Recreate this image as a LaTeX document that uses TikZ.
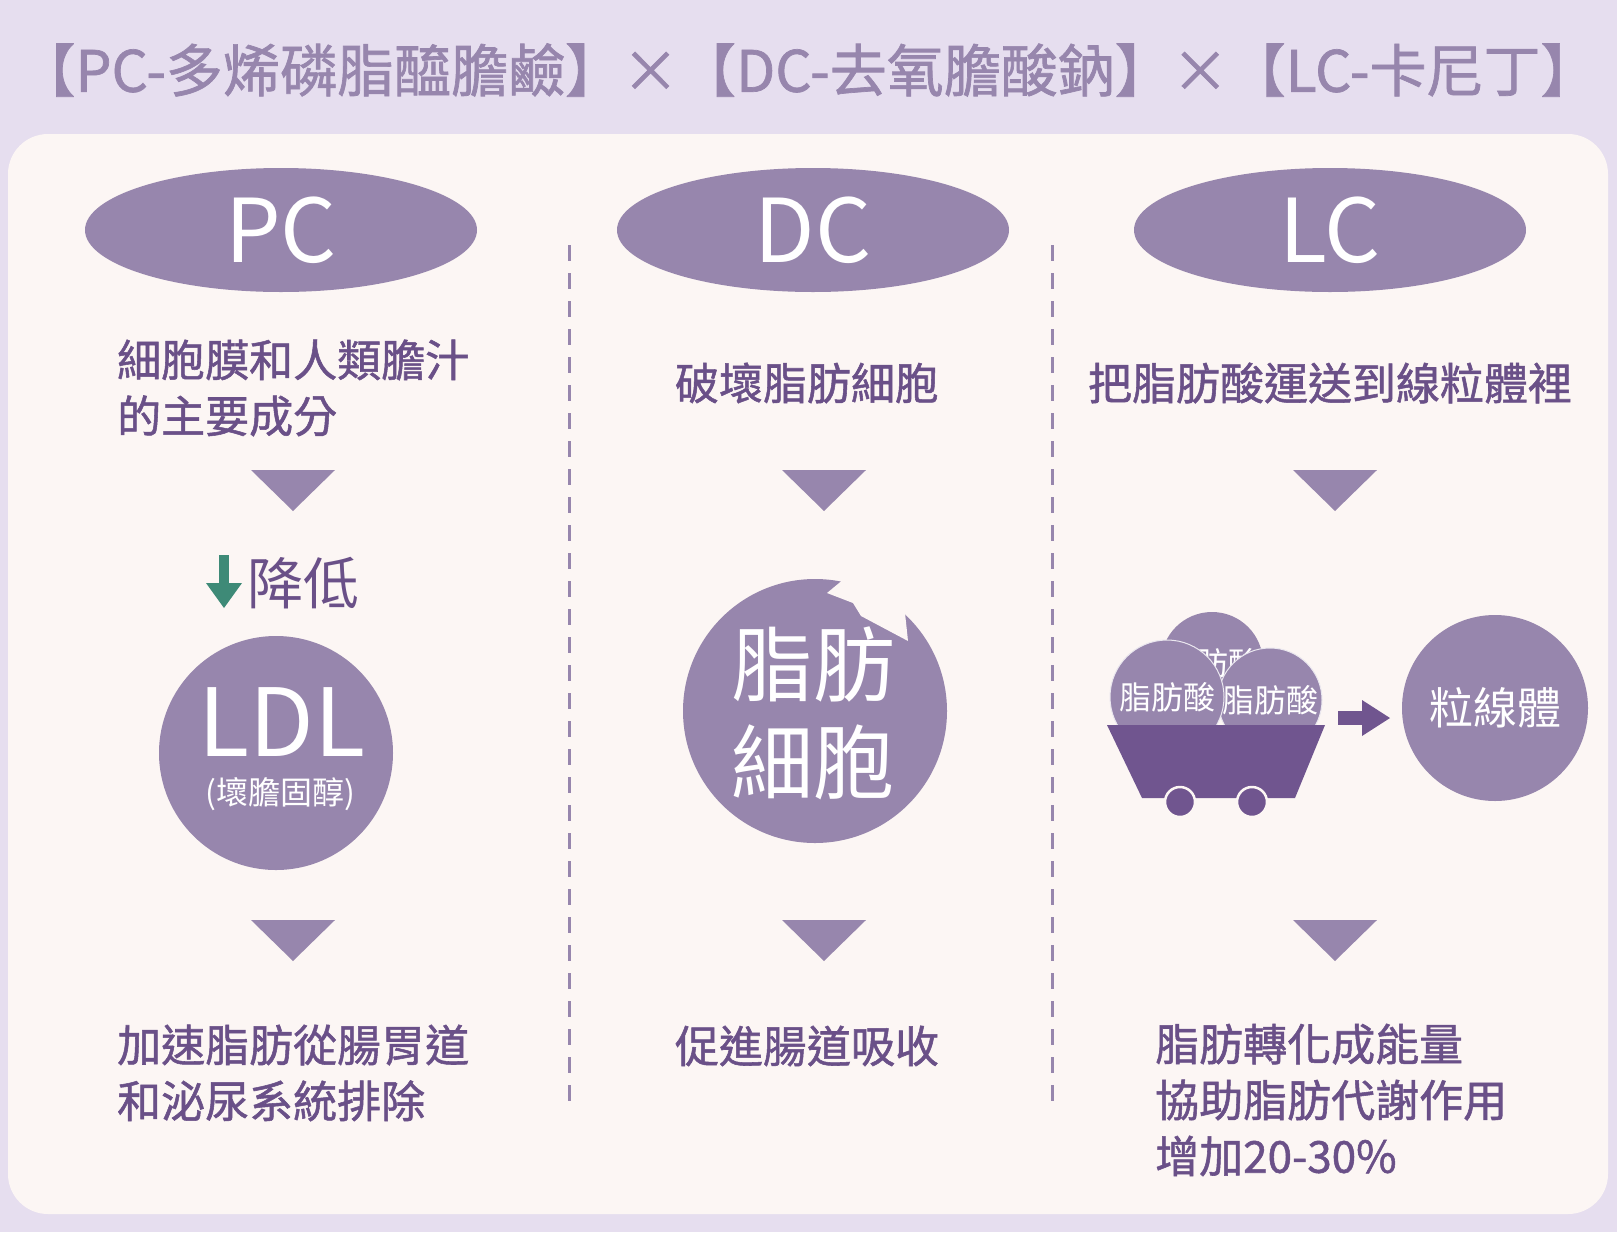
\documentclass[tikz,border=0pt]{standalone}
\usepackage{fontspec}
\setmainfont{Noto Sans CJK TC}
\newfontfamily\bodyfont{Noto Sans CJK TC}[FakeBold=1.2]
\usetikzlibrary{positioning,shapes.geometric}
\definecolor{bgtop}{HTML}{E6DEEF}
\definecolor{panel}{HTML}{FCF6F4}
\definecolor{lilac}{HTML}{9786AD}
\definecolor{plum}{HTML}{6A5088}
\definecolor{cart}{HTML}{70558F}
\definecolor{leaf}{HTML}{3E8A77}
\tikzset{
  body/.style={text=plum, font=\fontsize{44}{56}\selectfont\bodyfont, align=left, inner sep=0pt},
  head/.style={ellipse, fill=lilac, text=white, minimum width=392pt, minimum height=124pt, font=\fontsize{88}{88}\selectfont},
  ball/.style={circle, fill=lilac, text=white, inner sep=0pt},
  down/.style={fill=lilac},
}
\begin{document}
\begin{tikzpicture}[x=1pt,y=-1pt]
    \useasboundingbox (0,0) rectangle (1617,1232);
    % Background and panel
    \fill[bgtop] (0,0) rectangle (1617,1232);
    \fill[panel, rounded corners=40pt] (8,134) rectangle (1608,1214);
    % Title
    \node[text=lilac, font=\fontsize{57}{57}\selectfont\bodyfont] (title) at (808,70)
        {【PC-多烯磷脂醯膽鹼】×【DC-去氧膽酸鈉】×【LC-卡尼丁】};

    % Column heads
    \node[head] (pc) at (281,230) {PC};
    \node[head] (dc) at (813,230) {DC};
    \node[head] (lc) at (1330,230) {LC};

    % Dividers
    \draw[lilac, line width=3pt, dash pattern=on 16pt off 12pt] (569,245) -- (569,1111);
    \draw[lilac, line width=3pt, dash pattern=on 16pt off 12pt] (1052,245) -- (1052,1111);

    % Upper texts
    \node[body, anchor=west] (pctop) at (117,388) {細胞膜和人類膽汁\\的主要成分};
    \node[body] (dctop) at (807,383) {破壞脂肪細胞};
    \node[body] (lctop) at (1330,383) {把脂肪酸運送到線粒體裡};

    % Triangles
    \foreach \x in {293,824,1335} {
        \fill[down] (\x-42,470) -- (\x+42,470) -- (\x,511) -- cycle;
        \fill[down] (\x-42,920) -- (\x+42,920) -- (\x,961) -- cycle;
    }

    % PC: LDL
    \fill[leaf] (219,555) rectangle (229,585);
    \fill[leaf] (206,583) -- (242,583) -- (224,608) -- cycle;
    \node[text=plum, font=\fontsize{56}{56}\selectfont, anchor=west] (lower) at (244,583) {降低};
    \node[ball, minimum size=234pt] (ldl) at (276,753) {};
    \node[text=white, font=\fontsize{94}{94}\selectfont] (ldltxt) at (282,722) {LDL};
    \node[text=white, font=\fontsize{32}{32}\selectfont] (ldlsub) at (280,794) {(壞膽固醇)};

    % DC: fat cell
    \node[ball, minimum size=264pt] (fat) at (815,711) {};
    \fill[panel] (850,574) -- (827,593) -- (853,603) -- (861,616) -- (908,641)
        -- (905,613) -- (935,600) -- (885,566) -- cycle;
    \node[text=white, font=\fontsize{82}{98}\selectfont, align=center] (fattxt) at (813,713) {脂肪\\細胞};

    % LC: cart of fatty acids
    \node[ball, minimum size=102pt, font=\fontsize{32}{32}\selectfont] (acidc) at (1212,663) {脂肪酸};
    \node[ball, minimum size=104pt, draw=white!80!lilac, line width=1pt, font=\fontsize{32}{32}\selectfont] (acidr) at (1270,700) {脂肪酸};
    \node[ball, minimum size=114pt, draw=white!80!lilac, line width=1pt, font=\fontsize{32}{32}\selectfont] (acidl) at (1167,697) {脂肪酸};
    \fill[cart] (1107,725) -- (1325,725) -- (1295,798) -- (1142,798) -- cycle;
    \foreach \x in {1180,1252}
        \filldraw[fill=cart, draw=panel, line width=2.5pt] (\x,802) circle (15);
    \node[ball, minimum size=186pt, font=\fontsize{44}{44}\selectfont] (mito) at (1495,708) {粒線體};
    \coordinate (arrtail) at (1338,718);
    \fill[cart] (arrtail) ++(0,-7) rectangle (1364,725);
    \fill[cart] (1362,700) -- (1390,718) -- (1362,736) -- cycle;

    % Lower texts
    \node[body, anchor=west] (pcbot) at (117,1073) {加速脂肪從腸胃道\\和泌尿系統排除};
    \node[body] (dcbot) at (807,1046) {促進腸道吸收};
    \node[body, anchor=west] (lcbot) at (1155,1100) {脂肪轉化成能量\\協助脂肪代謝作用\\增加20-30\%};
\end{tikzpicture}
\end{document}
